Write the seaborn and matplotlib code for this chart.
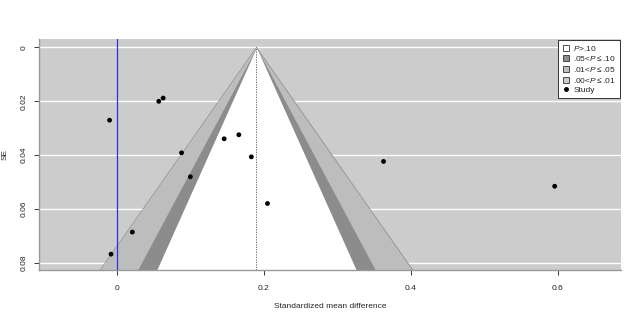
import numpy as np
import pandas as pd
import matplotlib
matplotlib.use('Agg')
import matplotlib.pyplot as plt
import seaborn as sns
from matplotlib.lines import Line2D

# study effects (standardized mean difference) and their standard errors
smd = [0.063, 0.057, -0.010, 0.088, 0.100, 0.146, 0.166, 0.183, 0.205, 0.021, -0.008, 0.363, 0.596]
se = [0.0188, 0.0200, 0.0270, 0.0391, 0.0480, 0.0339, 0.0324, 0.0406, 0.0579, 0.0685, 0.0767, 0.0423, 0.0515]
pooled = 0.19

x_ticks = [0, 0.2, 0.4, 0.6]
y_ticks = [0, 0.02, 0.04, 0.06, 0.08]
y_labels = ['0', '0.02', '0.04', '0.06', '0.08']
legend_labels = [r'$\it{P}$>.10', r'.05<$\it{P}$$\leq$.10', r'.01<$\it{P}$$\leq$.05',
                 r'.00<$\it{P}$$\leq$.01', 'Study']

df = pd.DataFrame({'smd': smd, 'se': se})

sns.set_style('white')
plt.rcParams['font.family'] = ['Liberation Sans', 'DejaVu Sans']
plt.rcParams['mathtext.fontset'] = 'custom'
plt.rcParams['mathtext.it'] = 'Liberation Sans:italic'
plt.rcParams['mathtext.rm'] = 'Liberation Sans'

back = '#cccccc'
shades = ['#8c8c8c', '#bdbdbd']   # 90-95%, 95-99%
z = [1.645, 1.960, 2.576]

fig = plt.figure(figsize=(6.4, 3.2), dpi=100)
ax = fig.add_axes([0.061, 0.156, 0.909, 0.722])
ax.set_facecolor(back)

ylim = (0.0826, -0.0031)
se_grid = np.linspace(0, 0.09, 200)

for yt in y_ticks:
    ax.axhline(yt, color='white', lw=1.0, zorder=1)

# contour bands, outermost first
ax.fill_betweenx(se_grid, pooled - z[2] * se_grid, pooled + z[2] * se_grid,
                 color=shades[1], lw=0, zorder=2)
ax.fill_betweenx(se_grid, pooled - z[1] * se_grid, pooled + z[1] * se_grid,
                 color=shades[0], lw=0, zorder=2)
ax.fill_betweenx(se_grid, pooled - z[0] * se_grid, pooled + z[0] * se_grid,
                 color='white', lw=0, zorder=2)
ax.plot(pooled - z[2] * se_grid, se_grid, color='#8a8a8a', lw=0.5, zorder=3)
ax.plot(pooled + z[2] * se_grid, se_grid, color='#8a8a8a', lw=0.5, zorder=3)

ax.axvline(pooled, ymin=0, ymax=(ylim[0] - 0) / (ylim[0] - ylim[1]),
           color='#555555', lw=0.6, ls=(0, (1.5, 1.5)), zorder=3)
ax.axvline(0, color='#3030e8', lw=0.9, zorder=3)

sns.scatterplot(data=df, x='smd', y='se', ax=ax, color='black', s=12,
                edgecolor='none', zorder=5, legend=False)

ax.set_xlim(-0.106, 0.686)
ax.set_ylim(*ylim)
ax.set_xticks(x_ticks)
ax.set_xticklabels(['0', '0.2', '0.4', '0.6'])
ax.set_yticks(y_ticks)
ax.set_yticklabels(y_labels, rotation=90, va='center')
ax.tick_params(axis='both', labelsize=6, length=3.5, width=0.7, color='#333333',
               colors='#222222', left=True, bottom=True)
ax.tick_params(axis='x', pad=7)
ax.tick_params(axis='y', pad=5)
ax.set_xlabel('Standardized mean difference', fontsize=6, labelpad=8)
ax.set_ylabel('SE', fontsize=6, labelpad=8)

for side in ['top', 'right']:
    ax.spines[side].set_visible(False)
for side in ['left', 'bottom']:
    ax.spines[side].set_color('#999999')
    ax.spines[side].set_linewidth(1.0)

handles = [
    Line2D([], [], marker='s', ls='', markerfacecolor='white', markeredgecolor='#333333', markersize=5, markeredgewidth=0.6),
    Line2D([], [], marker='s', ls='', markerfacecolor=shades[0], markeredgecolor='#333333', markersize=5, markeredgewidth=0.6),
    Line2D([], [], marker='s', ls='', markerfacecolor=shades[1], markeredgecolor='#333333', markersize=5, markeredgewidth=0.6),
    Line2D([], [], marker='s', ls='', markerfacecolor=back, markeredgecolor='#333333', markersize=5, markeredgewidth=0.6),
    Line2D([], [], marker='o', ls='', color='black', markersize=2.5),
]
leg = ax.legend(handles, legend_labels, loc='upper right', fontsize=6, frameon=True,
                fancybox=False, edgecolor='#333333', framealpha=1,
                borderaxespad=0.1, handlelength=1.0, handletextpad=0.4,
                labelspacing=0.2, borderpad=0.45)
leg.get_frame().set_linewidth(0.7)

fig.savefig('out.png', dpi=100, facecolor='white')
